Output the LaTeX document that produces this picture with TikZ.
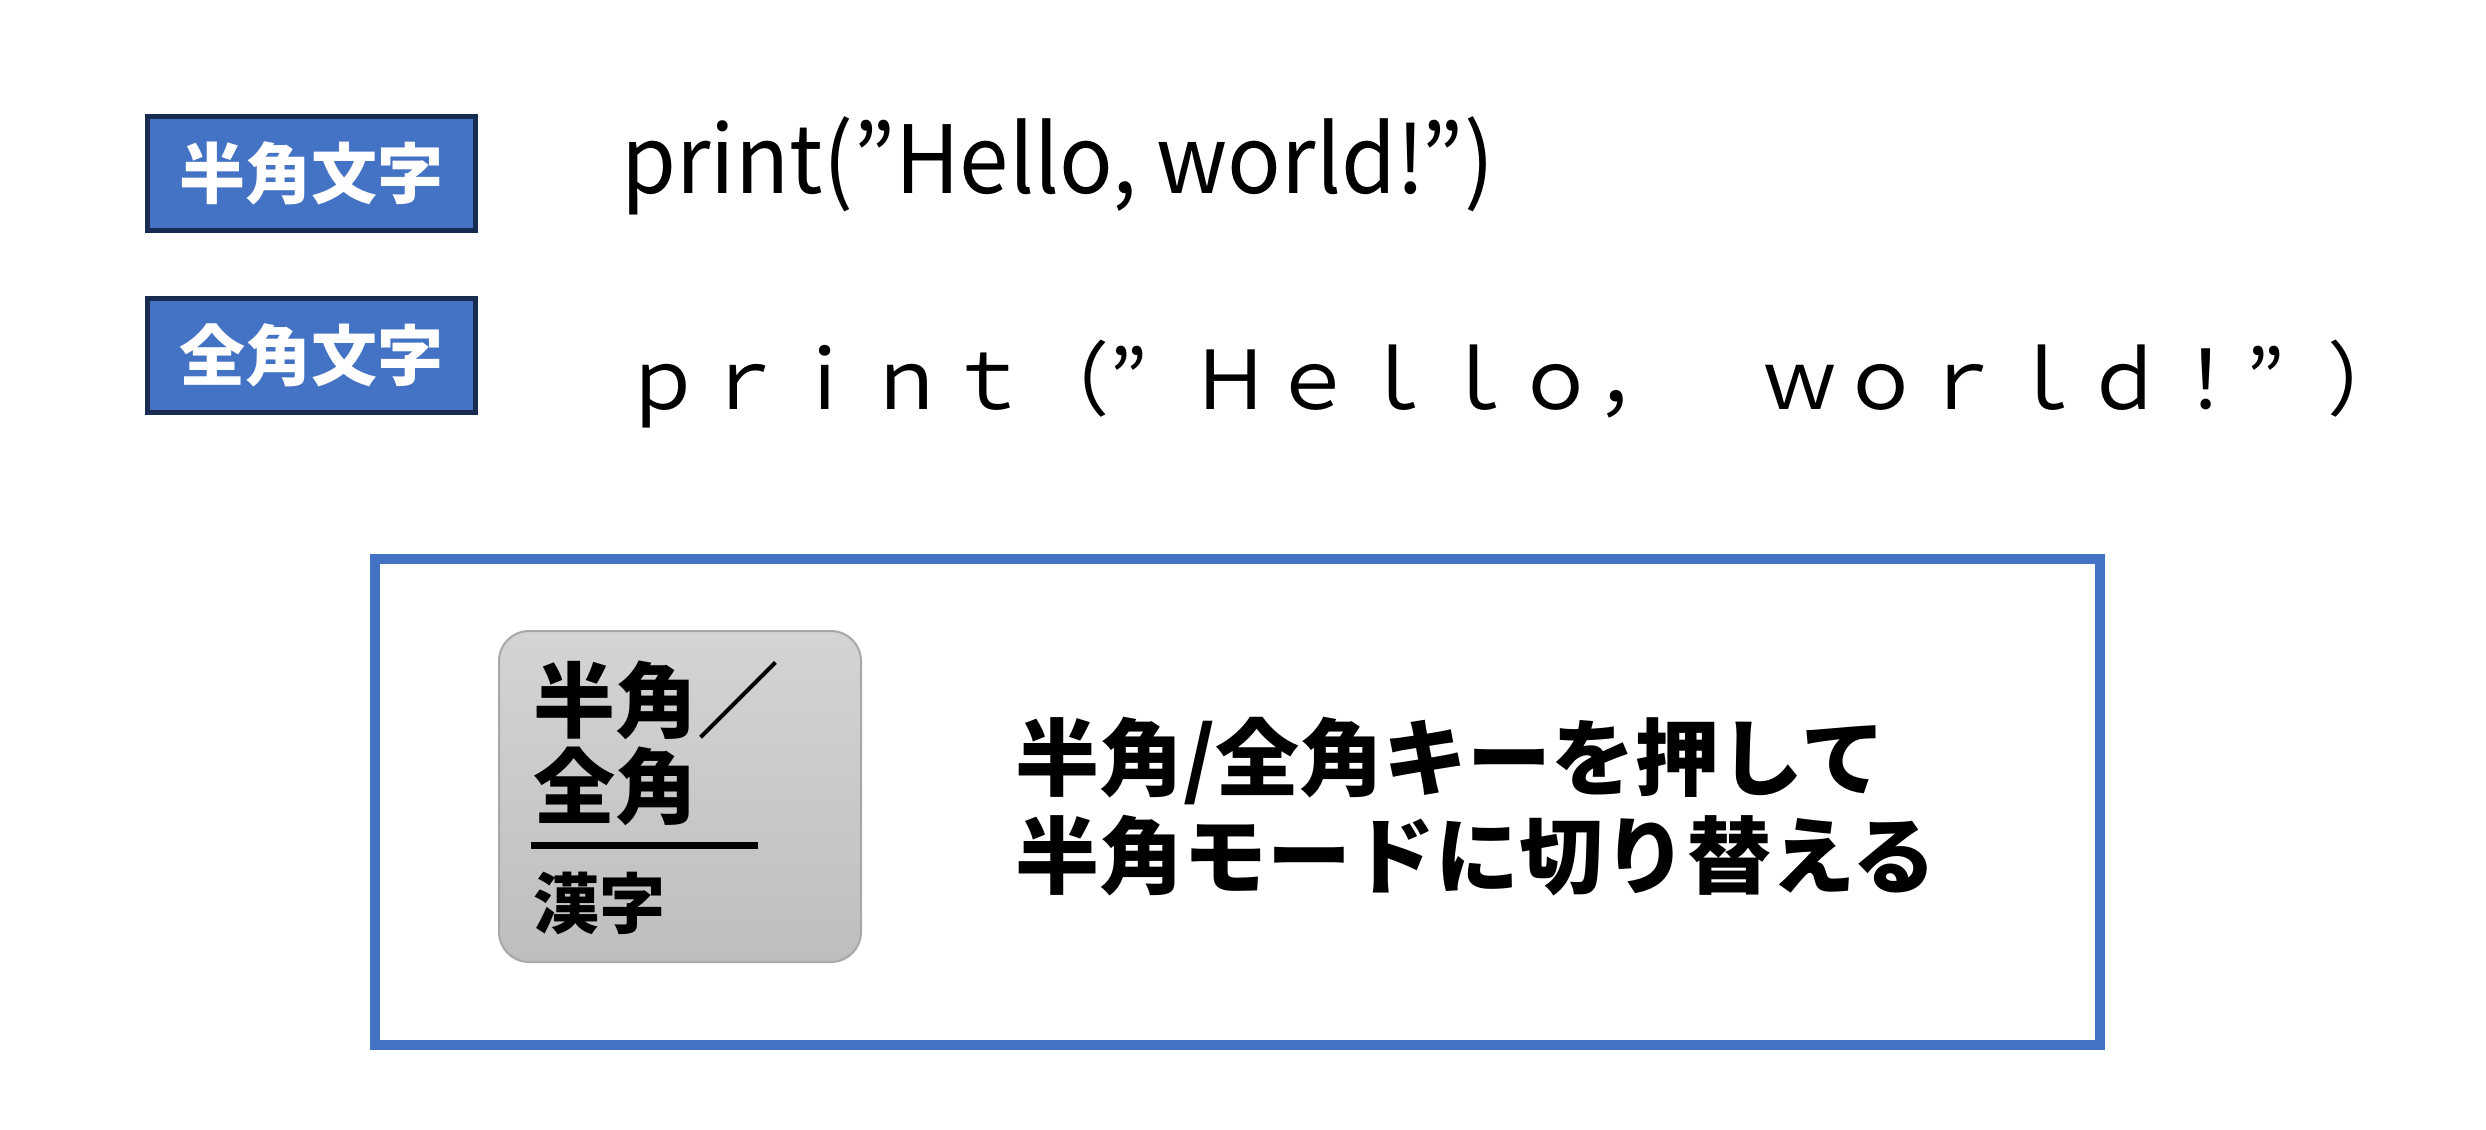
\documentclass[tikz,border=0pt]{standalone}
\usepackage{fontspec}
\setmainfont{Noto Sans CJK JP}
\newfontfamily\codefont[FakeStretch=0.945]{Noto Sans CJK JP}
\usepackage{xcolor}
\definecolor{tagblue}{RGB}{68,114,196}
\definecolor{tagedge}{RGB}{24,44,82}
\definecolor{keyedge}{RGB}{168,168,168}
\definecolor{keytop}{RGB}{212,212,212}
\definecolor{keybottom}{RGB}{190,190,190}

\begin{document}
\begin{tikzpicture}[
    x=0.5pt, y=-0.5pt,
    tag/.style={draw=tagedge, line width=2.5pt, fill=tagblue, text=white,
      minimum width=164pt, minimum height=57pt, inner sep=0pt,
      font=\fontsize{33}{33}\selectfont\bfseries},
    code/.style={anchor=base west, inner sep=0pt},
    msg/.style={anchor=base west, inner sep=0pt,
      font=\fontsize{42}{42}\selectfont\bfseries}
  ]
    \useasboundingbox (0,0) rectangle (2486,1130);

    % labels and the two print lines
    \node[tag] (hanlabel) at (311.5,173.5) {半角文字};
    \node[tag] (zenlabel) at (311.5,355.5) {全角文字};
    \node[code, font=\codefont\fontsize{47}{47}\selectfont] (hancode) at (621,193)
      {print(”Hello, world!”)};
    \node[code, font=\fontsize{40.6}{40.6}\selectfont] (zencode) at (622,409)
      {ｐｒｉｎｔ（\makebox[1em][l]{”}Ｈｅｌｌｏ，　ｗｏｒｌｄ！\makebox[1em][l]{”}）};

    % frame with the key
    \node[draw=tagblue, line width=5pt, minimum width=862.5pt, minimum height=243pt,
      inner sep=0pt] (frame) at (1237.5,802) {};
    \node[draw=keyedge, line width=1pt, rounded corners=15pt, top color=keytop,
      bottom color=keybottom, minimum width=181pt, minimum height=165.5pt,
      inner sep=0pt] (key) at (680,796.5) {};
    \node[code, font=\fontsize{41}{41}\selectfont\bfseries] (keytop) at (533,731) {半角／};
    \node[code, font=\fontsize{41}{41}\selectfont\bfseries] (keymid) at (533,817) {全角};
    \draw[line width=3.5pt] (531,845) -- (758,845);
    \node[code, font=\fontsize{33}{33}\selectfont\bfseries] (keylow) at (533,928) {漢字};

    \node[msg] (msgone) at (1015,789) {半角/全角キーを押して};
    \node[msg] (msgtwo) at (1015,887) {半角モードに切り替える};
  \end{tikzpicture}
\end{document}
